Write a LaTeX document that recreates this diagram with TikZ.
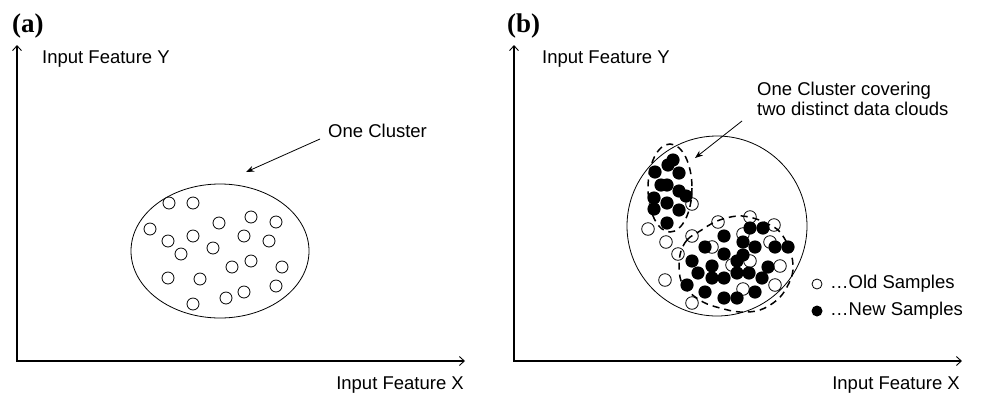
\documentclass[tikz,border=0pt]{standalone}
\usepackage{fontspec}
\setmainfont{Liberation Sans}
\newfontfamily\panelfont{Liberation Serif}
\usetikzlibrary{arrows.meta,shapes.geometric}
\begin{document}
\begin{tikzpicture}[x=1pt,y=-1pt,
  axis/.style={line width=1.3pt,{Straight Barb[length=5pt,width=9pt,line width=0.9pt]}-{Straight Barb[length=5pt,width=9pt,line width=0.9pt]}},
  callout/.style={line width=0.8pt,-{Stealth[length=8pt,width=6pt]}},
  lbl/.style={font=\fontsize{18.5}{22}\selectfont,inner sep=0pt},
  panel/.style={font=\panelfont\bfseries\fontsize{27}{30}\selectfont,inner sep=0pt},
  olddot/.style={draw=black,fill=white,line width=0.8pt},
  newdot/.style={fill=black},
  cluster/.style={draw=black,line width=0.8pt},
  dashbound/.style={draw=black,line width=1.5pt,dash pattern=on 7pt off 5pt}]
\useasboundingbox (0,0) rectangle (986,392);

% ---------------- panel (a) ----------------
\node[panel,anchor=base west] (pa) at (12,32) {(a)};
\coordinate (Oa) at (17,361);
\coordinate (Ya) at (17,45);
\coordinate (Xa) at (465,361);
\draw[axis] (Ya) -- (Oa) -- (Xa);
\node[lbl,anchor=base west] (ya) at (42,63) {Input Feature Y};
\node[lbl,anchor=base east] (xa) at (464,389) {Input Feature X};

\node[cluster,ellipse,minimum width=178pt,minimum height=134pt,inner sep=0pt] (ea) at (220,251) {};
\foreach \p in {(169,203),(193,203),(219,223),(251,217),(276,222),(150,229),(168,241),(193,236),(244,236),(269,241),(181,254),(213,248),(232,267),(251,261),(282,267),(168,278),(200,279),(276,286),(244,292),(226,298),(193,304)}
  \path[olddot] \p circle (6);

\node[lbl,anchor=base west] (ca) at (328,137) {One Cluster};
\coordinate (ta) at (246,172);
\draw[callout] ([xshift=-8pt,yshift=-2pt]ca.base west) -- (ta);

% ---------------- panel (b) ----------------
\node[panel,anchor=base west] (pb) at (507,32) {(b)};
\coordinate (Ob) at (514,361);
\coordinate (Yb) at (514,45);
\coordinate (Xb) at (962,361);
\draw[axis] (Yb) -- (Ob) -- (Xb);
\node[lbl,anchor=base west] (yb) at (542,63) {Input Feature Y};
\node[lbl,anchor=base east] (xb) at (960,389) {Input Feature X};

\node[cluster,circle,minimum size=180pt,inner sep=0pt] (cb) at (717,226) {};

% old samples
\foreach \p in {(692,204),(648,229),(666,242),(692,236),(718,222),(750,217),(774,225),(743,234),(770,242),(712,247),(678,254),(732,265),(750,261),(780,266),(743,289),(775,285),(692,303),(665,280)}
  \path[olddot] \p circle (6.3);
% new samples
\foreach \p in {(673,160),(668,165),(655,172),(679,173),(661,185),(667,185),(679,191),(686,196),(654,198),(667,203),(654,209),(679,210),(667,223),
  (750,228),(763,228),(724,236),(743,242),(705,247),(755,247),(775,247),(788,247),(724,254),(743,255),(692,261),(737,261),(712,266),(768,267),(698,273),(737,273),(749,273),(712,278),(724,278),(762,278),(687,285),(705,292),(755,292),(724,298),(737,298)}
  \path[newdot] \p circle (6.6);

% dashed boundaries
\draw[dashbound] (670,188) ellipse (22 and 44);
\draw[dashbound] plot[smooth cycle,tension=0.6] coordinates {(680,255) (687,240) (700,231) (717,221) (737,216) (753,218) (768,224) (780,232) (790,250) (793,270) (787,287) (777,300) (760,310) (740,312) (720,308) (703,302) (687,290) (680,277)};

\node[lbl,anchor=base west] (cb1) at (757,95) {One Cluster covering};
\node[lbl,anchor=base west] (cb2) at (757,115) {two distinct data clouds};
\coordinate (tb) at (695,158);
\draw[callout] ([xshift=-15pt,yshift=-6pt]cb2.base west) -- (tb);

% legend
\path[olddot] (817,284) circle (5) coordinate (lo);
\node[lbl,anchor=west] (lot) at (830,284) {\ldots Old Samples};
\path[newdot] (817,311) circle (5.5) coordinate (ln);
\node[lbl,anchor=west] (lnt) at (830,311) {\ldots New Samples};
\end{tikzpicture}
\end{document}
